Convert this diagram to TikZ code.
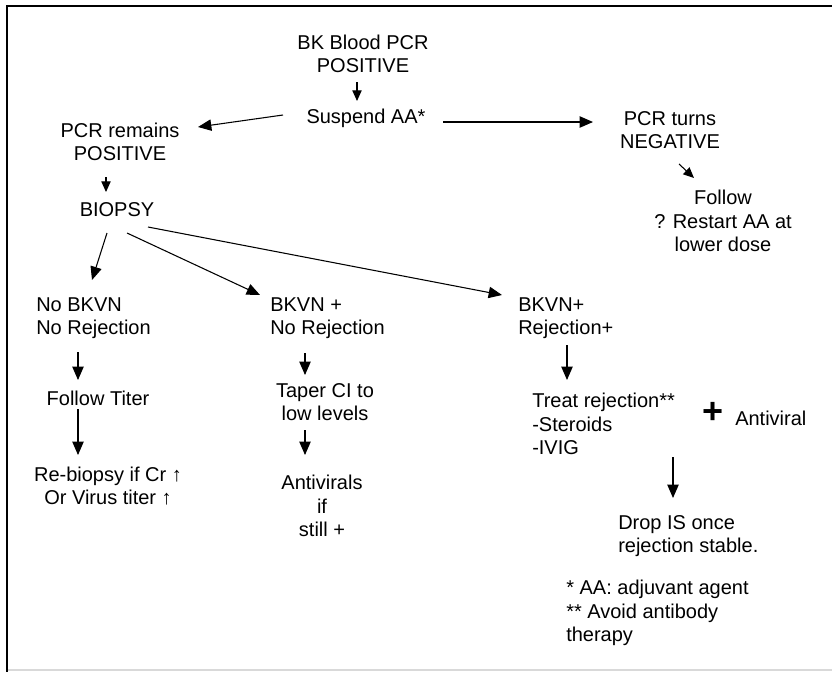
\documentclass[tikz,border=0pt]{standalone}
\usepackage{fontspec}
\setmainfont{Liberation Sans}
\usetikzlibrary{arrows.meta,calc}
\begin{document}
\begin{tikzpicture}[x=0.75pt,y=-0.75pt,
  txt/.style={inner sep=0pt,font=\fontsize{15}{17.6}\selectfont},
  ctr/.style={txt,align=center},
  lft/.style={txt,align=left,anchor=west},
  arr/.style={line width=0.8pt,-{Triangle[length=10pt,width=8.5pt]}},
  sarr/.style={line width=0.8pt,-{Triangle[length=8pt,width=7pt]}}]
\useasboundingbox (0,0) rectangle (832,672);
% frame
\draw[line width=1.6pt] (7,6) -- (832,6);
\draw[line width=2pt] (7,5) -- (7,672);
\draw[line width=1pt,black!15] (8,670) -- (832,670);

% nodes
\node[ctr] (top) at (363,54) {BK Blood PCR\\POSITIVE};
\node[ctr] (suspend) at (366,118) {Suspend AA*};
\node[ctr] (remains) at (120,142) {PCR remains\\POSITIVE};
\node[ctr] (biopsy) at (117,210) {BIOPSY};
\node[ctr] (negative) at (670,130) {PCR turns\\NEGATIVE};
\node[ctr] (follow) at (723,221) {Follow\\? Restart AA at\\lower dose};
\node[lft] (nobkvn) at (36,318) {No BKVN\\No Rejection};
\node[ctr] (titer) at (98,398) {Follow Titer};
\node[ctr] (rebiopsy) at (108,486) {Re-biopsy if Cr ↑\\Or Virus titer ↑};
\node[lft] (bkvnnr) at (270,318) {BKVN +\\No Rejection};
\node[ctr] (taper) at (325,402) {Taper CI to\\low levels};
\node[ctr] (antivirals) at (322,506) {Antivirals\\if\\still +};
\node[lft] (bkvnrej) at (518,318) {BKVN+\\Rejection+};
\node[lft] (treat) at (532,424) {Treat rejection**\\-Steroids\\-IVIG};
\node[txt,font=\fontsize{27}{27}\bfseries\selectfont] (plus) at (713,413) {+};
\node[lft] (antiviral) at (735,418) {Antiviral};
\node[lft] (drop) at (618,536) {Drop IS once\\rejection stable.};
\node[lft] (notes) at (566,613) {* AA: adjuvant agent\\** Avoid antibody\\therapy};

% connectors
\draw[sarr] ($(top)+(-6,28)$) -- ($(suspend)+(-9,-17)$);
\draw[arr] ($(suspend)+(-83,-3)$) -- ($(remains)+(78,-15)$);
\draw[sarr] ($(remains)+(-14,35)$) -- ($(biopsy)+(-11,-18)$);
\draw[arr] ($(suspend)+(77,4)$) -- ($(negative)+(-77,-8)$);
\draw[sarr] ($(negative)+(9,34)$) -- ($(follow)+(-29,-43)$);
\draw[arr] ($(biopsy)+(-10,23)$) -- ($(nobkvn.west)+(56,-38)$);
\draw[arr] ($(biopsy)+(10,23)$) -- ($(bkvnnr.west)+(-10,-23)$);
\draw[arr] ($(biopsy)+(31,17)$) -- ($(bkvnrej.west)+(-16,-23)$);
\draw[arr] ($(nobkvn.west)+(42,34)$) -- ($(titer)+(-20,-18)$);
\draw[arr] ($(titer)+(-20,11)$) -- ($(rebiopsy)+(-30,-31)$);
\draw[arr] ($(bkvnnr.west)+(35,35)$) -- ($(taper)+(-20,-27)$);
\draw[arr] ($(taper)+(-20,28)$) -- ($(antivirals)+(-17,-51)$);
\draw[arr] ($(bkvnrej.west)+(49,27)$) -- ($(treat.west)+(35,-44)$);
\draw[arr] ($(treat.west)+(141,33)$) -- ($(drop.west)+(55,-38)$);
\end{tikzpicture}
\end{document}
